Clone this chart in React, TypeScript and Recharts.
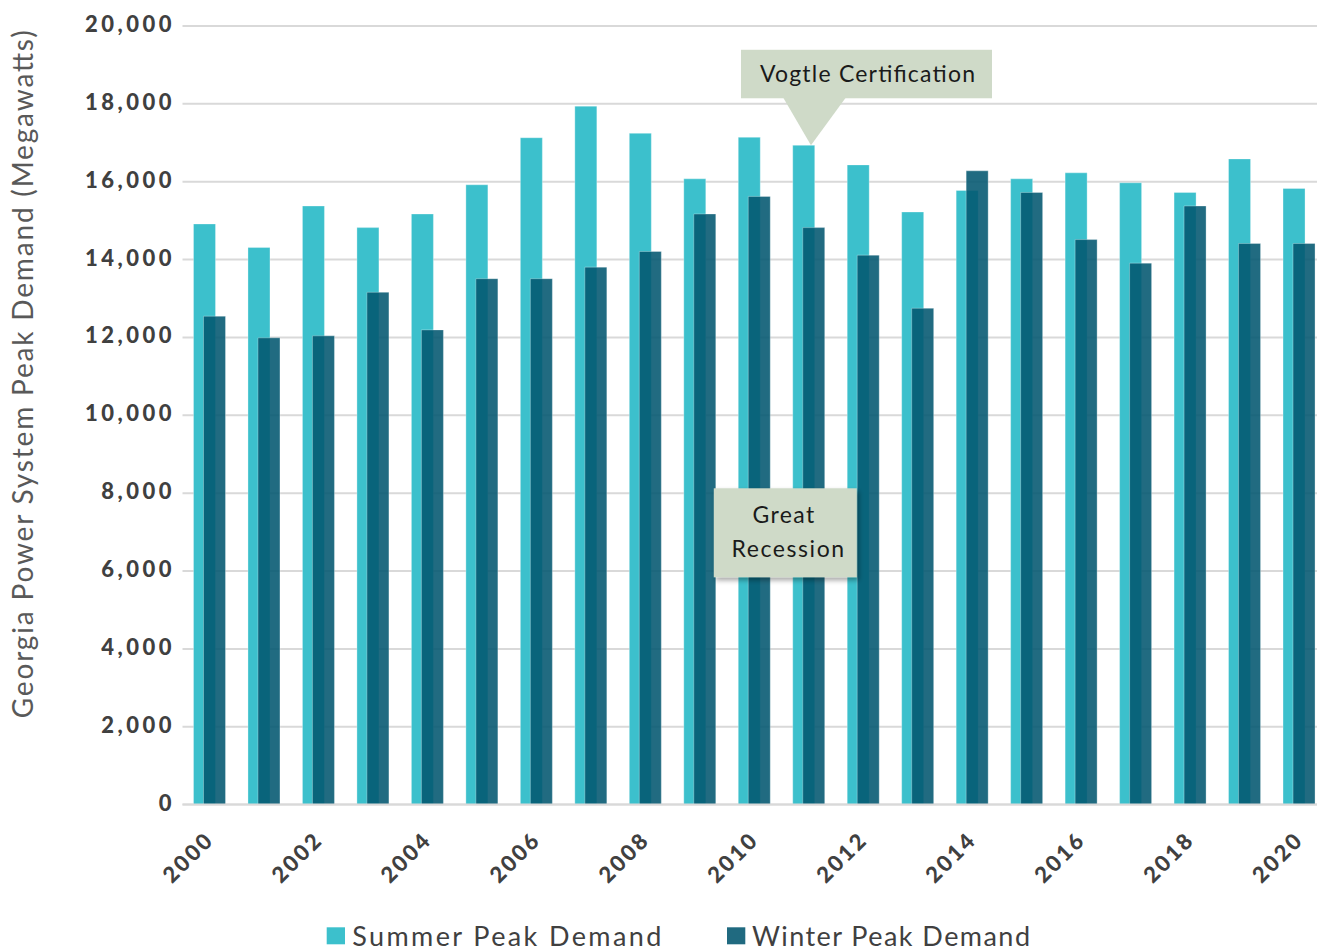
import React from 'react';
import {
  BarChart, Bar, XAxis, YAxis, CartesianGrid, Legend, ReferenceDot,
} from 'recharts';

const years = ['2000','2001','2002','2003','2004','2005','2006','2007','2008','2009','2010','2011','2012','2013','2014','2015','2016','2017','2018','2019','2020'];
const summerPeak = [14915,14309,15376,14821,15171,15921,17130,17941,17243,16074,17141,16936,16432,15222,15775,16074,16228,15972,15724,16586,15826];
const winterPeak = [12545,11990,12041,13159,12194,13509,13509,13806,14207,15171,15622,14821,14113,12749,16279,15724,14514,13908,15376,14412,14412];
const yTicks = [0,2000,4000,6000,8000,10000,12000,14000,16000,18000,20000];
const seriesNames = ['Summer Peak Demand', 'Winter Peak Demand'];
const annotationVogtle = { year: '2011', text: 'Vogtle Certification' };
const annotationRecession = { year: '2010', value: 7000, lines: ['Great', 'Recession'] };

const data = years.map((year, i) => ({ year, summer: summerPeak[i], winter: winterPeak[i] }));

const FONT = "Lato, 'Open Sans', sans-serif";
const SUMMER = '#3cc0cc';
const WINTER = '#02566f';
const BOX = '#cfdac8';

const YTick = (props: any) => {
  const { x, y, payload } = props;
  return (
    <text x={x + 3.5} y={y} dy={6} textAnchor="end" fill="#404040" fontFamily={FONT}
      fontWeight={900} fontSize={22} letterSpacing={3.5}>
      {Number(payload.value).toLocaleString('en-US')}
    </text>
  );
};

const XTick = (props: any) => {
  const { x, y, payload } = props;
  const tx = x + 5.5;
  const ty = y + 36.5;
  return (
    <text x={tx} y={ty} textAnchor="end" fill="#404040" fontFamily={FONT}
      fontWeight={900} fontSize={22} letterSpacing={2.5} transform={`rotate(-45, ${tx}, ${ty})`}>
      {payload.value}
    </text>
  );
};

const YLabel = (props: any) => {
  const vb = props.viewBox || { x: 0, y: 18, width: 174.5, height: 778.6 };
  const lx = vb.x + 25.3;
  const ly = vb.y + vb.height / 2 - 41;
  return (
    <text x={lx} y={ly} textAnchor="middle" fill="#595959" fontFamily={FONT} fontSize={28}
      textLength={688} lengthAdjust="spacing" transform={`rotate(-90, ${lx}, ${ly})`}>
      Georgia Power System Peak Demand (Megawatts)
    </text>
  );
};

const VogtleShape = (props: any) => {
  const { cx, cy } = props;
  const tx = cx + 2;
  const ty = cy;
  return (
    <g>
      <rect x={tx - 70} y={ty - 95.5} width={251} height={48.5} fill={BOX} />
      <polygon points={`${tx - 27.7},${ty - 47.5} ${tx + 34.7},${ty - 47.5} ${tx},${ty}`} fill={BOX} />
      <text x={tx + 56.5} y={ty - 63.5} textAnchor="middle" fill="#1a1a1a" fontFamily={FONT}
        fontSize={23} textLength={215} lengthAdjust="spacing">
        {annotationVogtle.text}
      </text>
    </g>
  );
};

const RecessionShape = (props: any) => {
  const { cx, cy } = props;
  return (
    <g>
      <defs>
        <filter id="boxShadow" x="-20%" y="-20%" width="150%" height="150%">
          <feDropShadow dx="2" dy="3" stdDeviation="2.5" floodColor="#000" floodOpacity="0.35" />
        </filter>
      </defs>
      <rect x={cx - 40.7} y={cy - 43.8} width={143} height={89} fill={BOX} filter="url(#boxShadow)" />
      <text x={cx + 28.8} y={cy - 8.8} textAnchor="middle" fill="#1a1a1a" fontFamily={FONT}
        fontSize={23} textLength={61.7} lengthAdjust="spacing">
        {annotationRecession.lines[0]}
      </text>
      <text x={cx + 33.3} y={cy + 25.2} textAnchor="middle" fill="#1a1a1a" fontFamily={FONT}
        fontSize={23} textLength={112.6} lengthAdjust="spacing">
        {annotationRecession.lines[1]}
      </text>
    </g>
  );
};

const LegendContent = () => (
  <svg width={1318} height={40} style={{ display: 'block', overflow: 'visible' }}>
    <rect x={318.7} y={18.3} width={18.3} height={17} fill={SUMMER} />
    <text x={344.3} y={36.7} fill="#404040" fontFamily={FONT} fontSize={27}
      textLength={309} lengthAdjust="spacing">{seriesNames[0]}</text>
    <rect x={719} y={18.3} width={18.3} height={17} fill="#206a80" />
    <text x={744} y={36.7} fill="#404040" fontFamily={FONT} fontSize={27}
      textLength={278} lengthAdjust="spacing">{seriesNames[1]}</text>
  </svg>
);

export default function App() {
  return (
    <div style={{ width: 1317, height: 949, overflow: 'hidden', position: 'relative',
      paddingLeft: 8, paddingTop: 8, boxSizing: 'border-box', background: '#ffffff' }}>
      <style>{'html, body { margin: 0; padding: 0; overflow: hidden; }'}</style>
      <BarChart width={1330} height={941} data={data}
        margin={{ top: 18, right: 11.5, left: 0, bottom: 0 }}
        barSize={22} barGap={-12}>
        <CartesianGrid vertical={false} stroke="#d9d9d9" strokeWidth={2} />
        <XAxis dataKey="year" interval={1} height={104.4} tickLine={false} tickSize={0} tickMargin={0}
          axisLine={{ stroke: '#d9d9d9', strokeWidth: 2 }} tick={<XTick />} />
        <YAxis width={174.5} domain={[0, 20000]} ticks={yTicks} tickLine={false} axisLine={false}
          tickSize={0} tickMargin={11} tick={<YTick />} interval={0} label={<YLabel />} />
        <Legend verticalAlign="bottom" align="left" content={<LegendContent />}
          wrapperStyle={{ left: 0 }} />
        <Bar dataKey="summer" name={seriesNames[0]} fill={SUMMER} stroke="#ffffff" strokeOpacity={0.3}
          strokeWidth={1} isAnimationActive={false} />
        <Bar dataKey="winter" name={seriesNames[1]} fill={WINTER} fillOpacity={0.88} stroke="#ffffff"
          strokeOpacity={0.3} strokeWidth={1} isAnimationActive={false} />
        <ReferenceDot x={annotationVogtle.year} y={summerPeak[years.indexOf(annotationVogtle.year)]}
          ifOverflow="visible" shape={<VogtleShape />} />
        <ReferenceDot x={annotationRecession.year} y={annotationRecession.value}
          ifOverflow="visible" shape={<RecessionShape />} />
      </BarChart>
    </div>
  );
}
